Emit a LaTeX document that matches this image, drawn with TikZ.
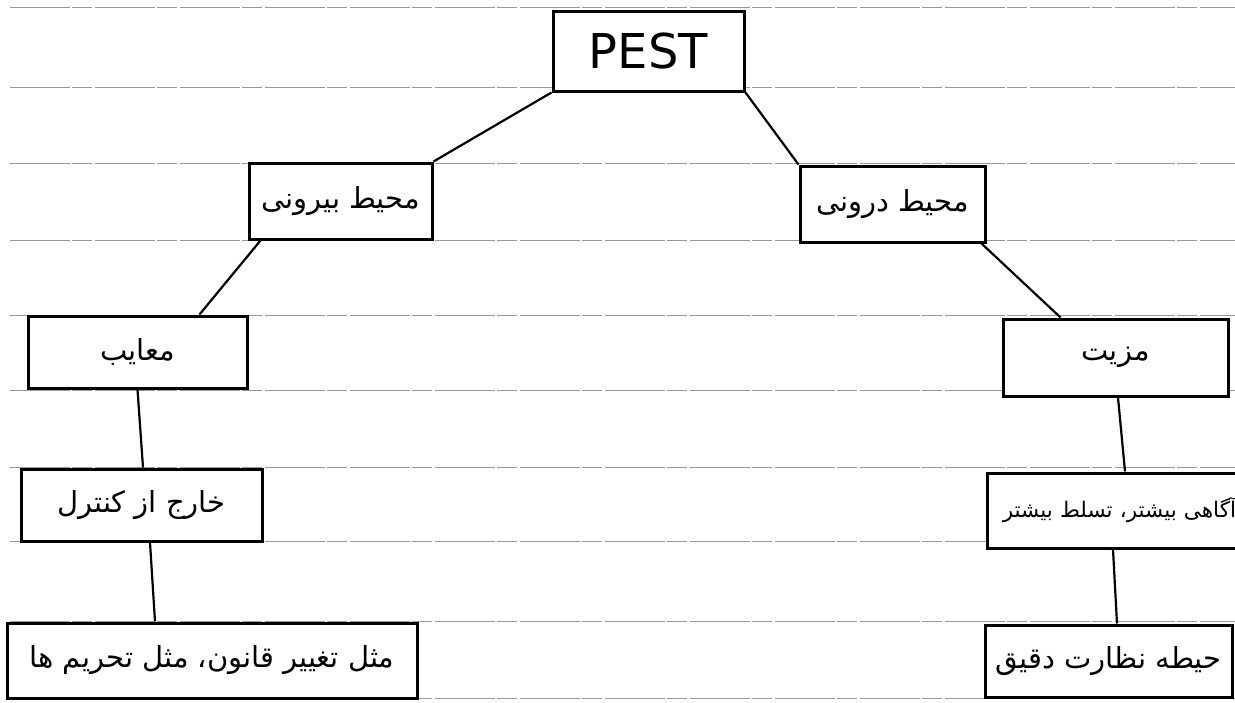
\documentclass[tikz,border=0pt]{standalone}
\usepackage{fontspec}
\setmainfont{DejaVu Sans}
\newfontfamily\fa[Script=Arabic]{DejaVu Sans}
\TeXXeTstate=1
\begin{document}
\begin{tikzpicture}[x=1pt,y=-1pt,
  box/.style={draw, line width=3pt, fill=white, inner sep=0pt},
  fatext/.style={font=\fa\fontsize{29}{34}\selectfont},
  link/.style={line width=2.2pt},
  ruled/.style={black!40, line width=0.6pt, dash pattern=on 60pt off 2pt on 20pt off 3pt}]
\useasboundingbox (0,0) rectangle (1235,702);
\clip (0,0) rectangle (1235,702);
\fill[white] (0,0) rectangle (1235,702);
\foreach \yy in {7,87,163,240,315,390,467,541,621,698}
  \draw[ruled] (10,\yy) -- (1235,\yy);

\node[box, minimum width=191pt, minimum height=80pt, font=\fontsize{48}{52}\selectfont] (pest) at (648.5,51) {PEST};
\node[box, fatext, minimum width=183pt, minimum height=76pt] (ext) at (340.5,201) {\beginR محیط بیرونی\endR};
\node[box, fatext, minimum width=185pt, minimum height=76pt] (int) at (892.5,204) {\beginR محیط درونی\endR};
\node[box, fatext, minimum width=219pt, minimum height=72pt] (dis) at (137.5,352) {\beginR معایب\endR};
\node[box, fatext, minimum width=225pt, minimum height=77pt] (adv) at (1115.5,357.5) {\beginR مزیت\endR};
\node[box, fatext, minimum width=241pt, minimum height=72pt] (ctrl) at (141.5,505) {\beginR خارج از کنترل\endR};
\node[box, font=\fa\fontsize{21.5}{26}\selectfont, minimum width=258pt, minimum height=75pt, text width=240pt, align=right] (aware) at (1116,510.5) {\beginR آگاهی بیشتر، تسلط بیشتر\endR};
\node[box, fatext, minimum width=410pt, minimum height=75pt] (law) at (212,660.5) {\beginR مثل تغییر قانون، مثل تحریم ها\endR};
\node[box, fatext, minimum width=247pt, minimum height=72pt] (sup) at (1108.5,661) {\beginR حیطه نظارت دقیق\endR};

\draw[link] (pest.south west) -- (ext.north east);
\draw[link] (pest.south east) -- (int.north west);
\draw[link] ([xshift=13pt]ext.south west) -- ([xshift=-49pt]dis.north east);
\draw[link] ([xshift=-5pt]int.south east) -- ([xshift=59pt]adv.north west);
\draw[link] (dis.south) -- ([xshift=1.5pt]ctrl.north);
\draw[link] ([xshift=8.5pt]ctrl.south) -- ([xshift=-57pt]law.north);
\draw[link] ([xshift=2.5pt]adv.south) -- ([xshift=9pt]aware.north);
\draw[link] ([xshift=-3pt]aware.south) -- ([xshift=8.5pt]sup.north);
\end{tikzpicture}
\end{document}
